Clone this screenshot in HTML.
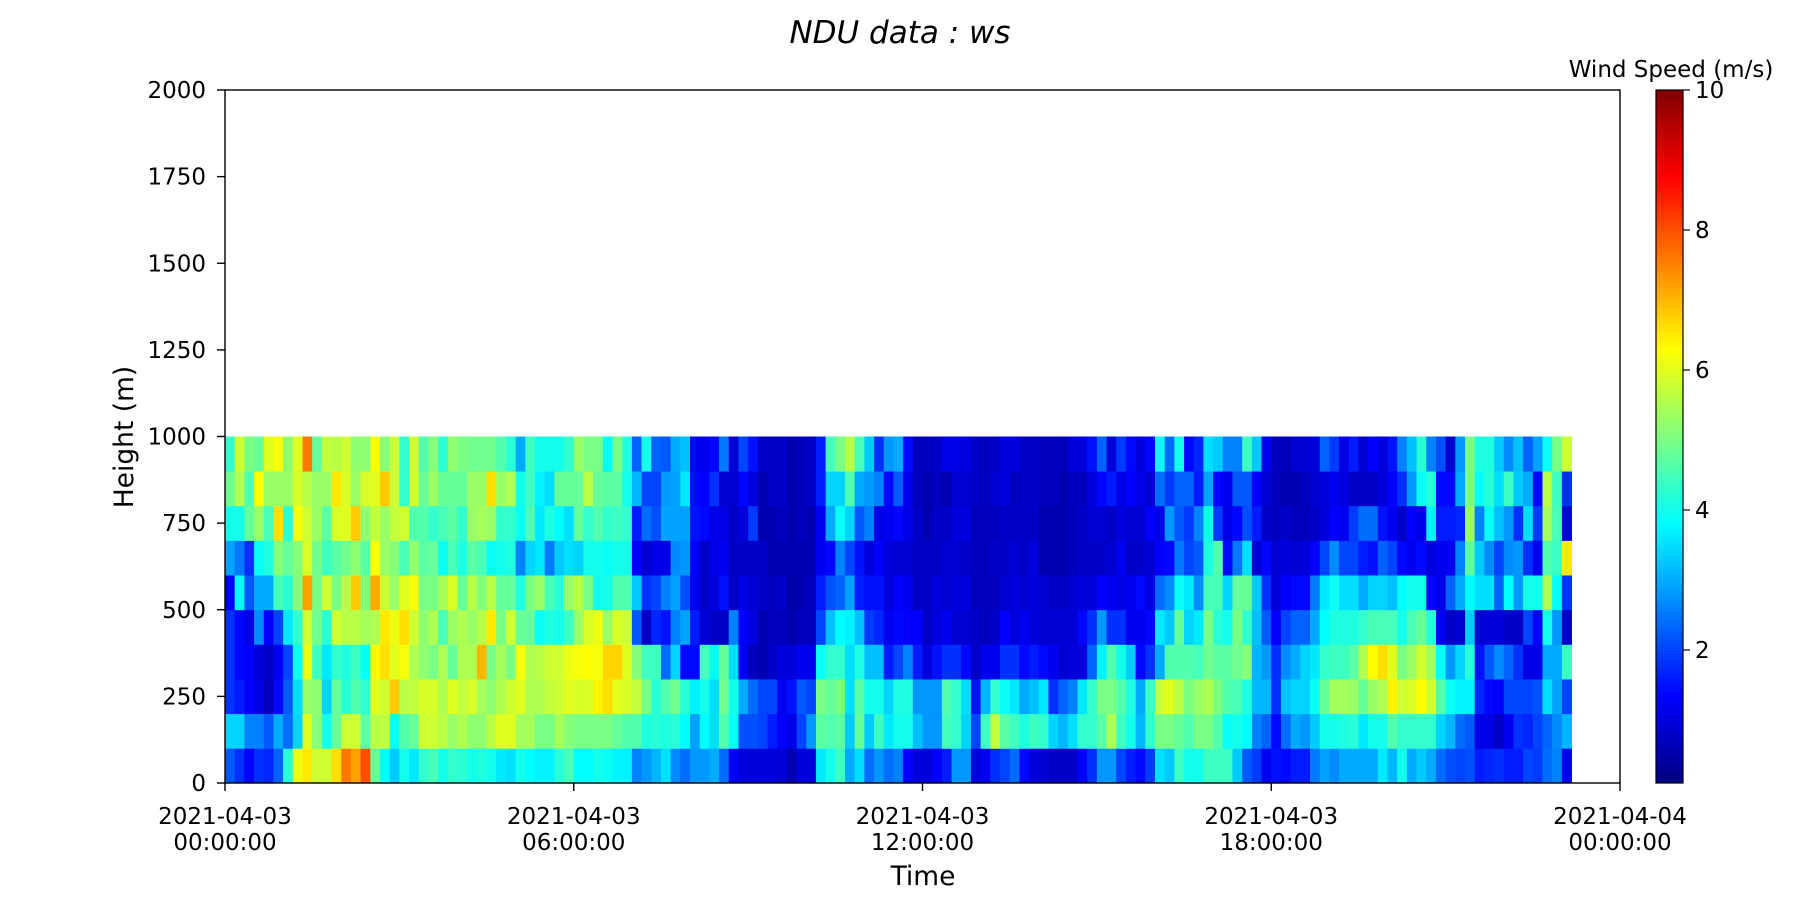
<!DOCTYPE html>
<html><head><meta charset="utf-8"><style>
html,body{margin:0;padding:0;background:#fff;}
svg{display:block;font-family:"DejaVu Sans","Liberation Sans",sans-serif;}
</style></head><body>
<svg id="chart" width="1800" height="900" viewBox="0 0 1800 900" xmlns="http://www.w3.org/2000/svg">
<defs><linearGradient id="cbgrad" x1="0" y1="1" x2="0" y2="0"></linearGradient></defs>
<rect width="1800" height="900" fill="#fff"/>
<text x="900" y="43" font-size="31" font-style="italic" text-anchor="middle" fill="#000">NDU data : ws</text>
<g id="cells"></g>
<g id="axes"></g>
<text transform="translate(133,437) rotate(-90)" font-size="26.5" text-anchor="middle" fill="#000">Height (m)</text>
<text x="923" y="885" font-size="26.5" text-anchor="middle" fill="#000">Time</text>
<g id="cbar"></g>
<text x="1671" y="77" font-size="23" text-anchor="middle" fill="#000">Wind Speed (m/s)</text>
</svg>
<script>
const heights = [0,100,200,300,400,500,600,700,800,900];
const stepMinutes = 10;
const row0 = [2.2,1.8,1.3,1.8,1.7,2.3,4.2,6.1,6.5,5.8,5.8,6.6,7.6,7.2,8.0,4.8,3.8,3.3,4.0,3.6,4.3,4.5,4.0,4.3,4.2,4.0,4.1,4.0, 3.6,3.5,4.0,3.8,3.7,3.7,4.2,4.5,3.8,3.8,4.0,3.9,3.7,3.7,2.6,2.8,3.1,3.5,2.7,2.4,2.8,2.8,3.0,2.4,1.2,1.0,1.0,1.0, 1.0,0.9,0.6,1.0,1.0,3.6,4.0,4.4,3.0,3.5,2.4,2.8,2.4,2.6,1.3,1.0,1.0,1.3,1.6,2.8,2.8,1.0,1.2,1.8,2.0,2.4,1.4,1.0, 0.9,0.8,0.8,0.8,1.3,1.8,2.8,2.8,2.0,1.6,1.4,1.9,3.5,3.3,4.4,4.0,4.0,4.4,4.4,4.4,3.3,2.2,1.9,1.2,1.5,1.4,1.6,1.6, 2.5,2.9,2.7,3.0,3.0,3.0,3.0,3.6,3.1,4.0,3.0,3.3,3.0,2.4,2.1,2.0,2.1,1.6,1.7,1.8,1.6,1.6,2.0,1.9,2.4,2.6,1.2];
const row1 = [3.4,3.4,2.6,2.6,2.2,3.0,2.4,3.4,6.0,5.1,4.0,4.8,5.8,5.8,4.7,5.6,5.7,3.9,4.6,4.8,5.8,5.8,5.6,5.3,5.5,5.2,5.2,5.6, 6.0,6.0,5.4,5.4,5.0,5.0,5.4,5.1,5.0,5.0,5.0,5.0,4.8,4.6,4.6,4.1,4.2,4.1,4.2,3.8,2.9,3.8,3.5,4.6,3.9,2.1,2.1,2.0, 1.6,1.3,1.1,2.0,2.8,4.7,4.6,4.7,3.3,4.8,3.3,4.4,3.6,4.0,4.0,3.2,2.8,2.8,4.5,4.3,3.4,2.0,4.4,5.7,4.7,4.4,4.1,4.4, 4.3,3.4,3.1,3.5,4.3,4.3,4.7,5.5,4.4,4.0,3.1,4.3,5.0,5.0,4.8,4.6,5.0,5.0,4.6,3.9,4.0,3.8,2.6,2.3,1.4,2.4,3.0,2.8, 3.3,4.0,4.0,4.1,4.2,3.6,4.0,4.0,4.6,4.3,4.3,4.3,4.3,3.4,3.1,2.4,2.2,1.1,1.1,0.8,1.2,1.8,1.7,2.0,2.3,2.7,3.1];
const row2 = [1.8,1.6,1.3,1.1,0.7,1.4,2.2,3.5,5.3,5.2,3.4,4.8,4.2,4.6,4.3,6.0,5.8,6.8,5.6,5.7,5.9,5.9,5.5,6.0,5.7,5.9,5.4,5.2, 5.5,5.8,6.0,5.5,5.5,5.7,5.8,6.0,5.9,5.9,6.4,6.6,6.0,5.9,5.7,5.0,4.2,4.6,4.9,4.2,3.7,4.0,3.5,4.9,4.0,3.0,2.4,2.0, 2.0,1.2,1.5,2.2,2.0,5.0,4.8,5.0,3.5,4.7,4.0,4.0,3.4,4.1,4.1,2.8,2.8,2.8,4.6,4.3,3.5,1.5,3.1,4.3,3.9,3.6,3.0,3.2, 3.6,1.8,2.3,2.6,3.6,4.3,5.0,5.0,4.6,4.1,3.0,4.4,5.8,6.0,5.6,5.0,5.3,5.5,5.0,4.6,4.5,4.1,3.1,3.1,1.8,3.2,3.4,3.4, 3.9,4.8,5.4,5.4,5.3,4.8,5.3,5.5,6.4,5.8,5.9,6.3,5.8,4.6,3.9,3.7,3.7,1.7,1.4,1.3,2.0,2.0,2.0,2.1,3.5,2.9,2.0];
const row3 = [1.8,1.4,1.3,1.0,0.8,1.2,2.0,3.9,6.1,4.4,3.6,4.3,4.1,4.4,3.9,6.3,6.6,6.0,6.2,5.5,5.2,5.0,5.5,4.8,5.5,5.5,7.0,5.0, 5.4,5.0,6.2,5.5,5.6,5.8,5.8,6.1,6.2,6.3,6.2,6.7,6.7,6.0,5.1,4.4,4.4,2.4,3.4,1.4,1.4,4.5,3.8,4.8,3.5,1.2,0.7,0.6, 0.8,1.0,1.0,1.2,1.2,3.9,4.3,4.3,3.5,4.1,3.2,3.2,1.6,2.0,2.6,1.6,1.0,1.5,1.8,1.8,1.4,0.8,1.2,1.2,1.8,1.8,1.4,1.6, 1.4,1.2,0.9,1.0,1.0,2.3,3.7,4.6,4.0,3.3,1.4,1.8,3.0,4.6,4.6,4.6,4.5,4.9,4.7,4.7,4.9,5.1,3.1,2.8,1.8,2.7,3.0,3.4, 3.6,4.3,4.4,4.4,4.7,5.5,6.3,6.6,6.0,5.0,5.3,5.8,5.4,3.9,2.8,3.4,4.2,1.5,2.2,2.7,2.3,1.8,1.1,1.1,3.0,3.0,4.4];
const row4 = [1.8,1.4,1.1,2.7,1.3,2.0,3.6,4.3,5.8,4.9,4.2,5.8,5.6,5.6,5.4,5.5,6.5,6.1,6.6,5.8,5.2,5.5,4.5,5.3,5.5,5.3,5.6,6.5, 5.0,5.8,4.8,4.8,3.9,4.1,4.0,4.4,5.3,5.9,6.1,5.3,5.9,5.8,2.2,0.8,1.7,1.5,2.6,2.9,1.6,0.9,0.8,0.8,2.6,1.3,1.0,0.6, 0.7,0.7,0.6,0.7,0.7,2.0,3.2,3.8,3.7,3.2,1.9,1.7,1.2,1.4,1.3,1.3,0.8,1.0,1.2,0.9,0.9,0.8,0.7,0.8,1.3,1.0,1.2,1.0, 0.9,0.9,0.9,0.9,1.4,1.8,2.8,1.8,1.8,1.2,1.2,1.4,3.6,3.3,4.8,3.4,3.6,5.0,4.2,4.0,5.0,4.3,3.2,2.2,1.3,2.0,2.3,2.3, 3.0,3.8,4.1,4.1,4.1,4.3,4.5,4.5,4.5,4.0,4.5,4.8,4.2,1.2,0.8,0.9,3.3,0.9,1.0,1.0,0.8,0.8,2.0,1.3,4.0,2.8,0.8];
const row5 = [1.3,3.9,2.2,3.0,3.0,4.5,4.2,5.1,7.2,5.0,5.8,5.0,5.6,6.8,5.1,7.1,5.8,5.3,6.0,6.2,5.0,5.0,5.4,5.9,4.8,5.6,5.1,5.6, 4.8,4.8,4.1,5.0,5.3,4.5,4.2,5.3,5.6,5.0,4.0,4.0,4.6,4.6,3.3,1.8,2.0,2.6,2.9,2.1,1.2,0.8,1.0,1.5,0.8,1.1,0.9,0.8, 0.7,0.8,0.5,0.6,0.7,1.6,2.1,2.3,2.9,1.6,1.5,1.5,1.0,1.3,1.2,0.8,0.8,1.0,0.9,1.0,1.0,0.7,0.7,0.7,0.9,1.0,0.9,1.0, 0.9,0.8,0.8,0.9,1.0,1.0,1.3,1.2,1.1,1.2,1.4,1.1,2.4,2.7,3.9,3.6,2.7,4.5,4.5,3.4,4.8,4.8,3.3,1.8,1.0,1.3,1.4,1.4, 2.5,3.6,3.9,3.5,3.5,3.0,3.4,3.4,3.2,3.8,4.0,4.0,1.4,1.1,2.3,3.0,3.8,3.5,3.5,2.3,3.8,2.8,4.0,4.0,5.5,3.8,1.8];
const row6 = [2.9,2.5,1.8,3.9,4.1,5.1,4.8,5.1,5.9,4.9,4.4,4.7,4.9,5.2,4.7,6.2,5.3,5.1,4.5,5.2,4.7,4.8,3.9,4.5,4.1,4.7,4.5,3.9, 4.0,4.1,2.6,3.4,3.6,2.5,3.3,3.5,3.4,4.0,4.0,3.9,4.0,4.0,1.3,0.9,1.1,1.1,2.7,2.8,1.3,0.8,1.1,1.2,0.8,0.8,0.8,0.8, 0.6,0.6,0.6,0.6,0.6,1.2,1.4,2.6,2.0,1.5,1.0,1.3,1.0,0.9,0.9,0.8,0.8,0.8,0.9,0.9,0.8,0.7,0.7,0.8,0.8,0.9,0.8,1.0, 0.6,0.6,0.6,0.7,0.8,0.8,0.8,0.9,1.2,0.8,0.8,0.9,1.3,1.4,2.5,2.0,2.2,4.1,4.6,1.4,2.5,3.5,0.9,1.4,0.9,1.0,0.9,1.0, 1.3,2.0,2.7,2.0,2.0,1.6,1.5,2.3,2.0,1.4,1.2,1.4,1.0,1.2,1.2,2.6,4.7,3.3,2.7,2.0,2.7,2.8,1.8,1.2,4.6,4.4,6.5];
const row7 = [4.0,4.0,4.8,5.3,4.5,6.6,4.2,6.2,5.8,5.3,4.7,5.9,6.0,6.8,5.2,5.7,5.3,5.7,5.8,4.6,4.6,4.3,4.5,4.7,4.3,5.3,5.4,5.3, 4.3,4.3,3.9,4.6,3.6,4.1,3.8,3.5,4.8,4.3,4.6,4.3,4.4,4.3,1.6,2.4,2.1,2.9,2.9,2.9,1.5,1.4,1.1,1.1,0.8,1.0,1.9,0.6, 0.6,0.7,0.6,0.7,0.6,1.2,3.0,3.9,3.4,2.2,2.6,1.1,1.2,1.4,1.1,0.8,0.6,0.8,0.8,1.0,1.0,0.7,0.7,0.7,0.8,0.8,0.8,0.8, 0.6,0.6,0.6,0.7,0.8,0.9,0.9,0.8,1.0,0.9,0.9,1.3,1.1,2.8,2.2,1.9,2.6,4.0,1.9,1.1,1.4,2.1,1.6,0.8,0.7,0.8,0.7,0.7, 0.8,1.0,1.3,1.2,1.9,2.4,2.4,1.5,1.2,0.8,1.3,1.1,3.7,1.6,1.6,1.7,5.3,2.6,3.9,3.2,2.8,1.8,3.5,1.9,5.4,4.5,1.0];
const row8 = [4.9,5.5,4.6,6.3,5.3,5.3,5.3,5.9,5.6,5.3,5.3,6.5,5.9,5.3,5.9,6.0,6.8,5.8,4.3,5.8,4.8,5.3,4.8,4.8,4.8,5.3,5.3,6.6, 5.3,5.5,4.0,4.4,3.7,3.5,4.8,4.8,4.8,5.6,4.8,4.7,4.7,4.0,3.1,2.0,2.0,2.8,2.9,3.6,1.4,1.3,1.8,0.9,0.9,1.4,1.0,0.6, 0.8,0.8,0.6,0.7,0.8,1.6,3.4,3.4,4.6,3.0,2.8,2.6,1.4,2.2,1.2,0.7,0.6,0.7,0.6,0.9,0.9,0.8,0.7,0.9,1.0,0.7,0.8,0.8, 0.7,0.7,0.6,0.7,0.7,1.0,1.4,1.6,1.1,1.3,1.1,0.9,2.4,1.9,2.3,2.3,1.6,2.9,1.4,1.2,2.2,2.2,1.3,0.9,0.7,0.6,0.6,0.7, 0.9,1.0,1.2,1.0,0.8,0.8,0.8,1.0,1.3,1.8,2.8,3.9,4.2,1.4,1.4,3.0,5.0,3.9,4.2,3.5,4.4,3.3,3.0,1.4,5.6,4.4,1.8];
const row9 = [4.3,5.8,5.0,4.8,6.0,6.2,5.2,6.0,7.6,4.8,5.7,5.6,5.8,5.2,5.2,6.2,5.1,5.8,4.3,5.8,4.6,5.1,4.2,5.2,5.0,4.9,4.9,4.9, 4.6,4.2,3.0,4.4,4.0,4.0,4.0,4.3,5.3,5.0,5.0,3.8,5.0,4.1,2.3,4.0,2.3,2.2,3.0,3.2,1.2,1.2,1.4,2.5,0.9,2.0,1.5,0.8, 0.8,0.8,0.6,0.7,0.8,1.6,4.5,5.0,5.6,4.5,3.3,1.8,2.8,3.0,1.4,0.7,0.7,0.8,1.1,1.1,1.0,0.8,0.7,0.8,1.0,1.0,0.8,0.8, 0.7,0.7,0.7,1.0,1.0,1.5,2.3,1.0,1.9,1.4,1.0,1.4,3.9,2.4,4.0,1.4,1.7,3.5,3.3,2.6,2.6,4.4,3.3,1.2,0.7,0.7,0.9,0.9, 1.0,2.3,1.9,1.1,1.6,0.9,1.3,1.0,1.5,2.6,3.2,4.2,2.6,2.1,0.9,2.8,5.0,4.1,4.1,3.3,2.7,3.2,2.3,2.9,3.9,5.0,5.8];
const rows = [row0,row1,row2,row3,row4,row5,row6,row7,row8,row9];
const yTicks = [0,250,500,750,1000,1250,1500,1750,2000];
const xTickHours = [0,6,12,18,24];
const xTickDates = ["2021-04-03","2021-04-03","2021-04-03","2021-04-03","2021-04-04"];
const xTickTimes = ["00:00:00","06:00:00","12:00:00","18:00:00","00:00:00"];
const cbTicks = [2,4,6,8,10];
const vmin = 0.1, vmax = 10;

const L=225,R=1620,T=90,B=783;
const NS="http://www.w3.org/2000/svg";
function xs(min){return L+min/1440*(R-L);}
function ys(h){return B-h/2000*(B-T);}
function jet(v){
  let t=Math.max(0,Math.min(1,(v-vmin)/(vmax-vmin)));
  const c=x=>Math.round(255*Math.max(0,Math.min(1,x)));
  return `rgb(${c(1.5-Math.abs(4*t-3))},${c(1.5-Math.abs(4*t-2))},${c(1.5-Math.abs(4*t-1))})`;
}
function mk(tag,attrs,parent){const e=document.createElementNS(NS,tag);for(const k in attrs)e.setAttribute(k,attrs[k]);parent.appendChild(e);return e;}
const cells=document.getElementById('cells');
rows.forEach((row,ri)=>{
  row.forEach((v,ci)=>{
    const x0=xs(ci*stepMinutes),x1=xs((ci+1)*stepMinutes);
    const y1=ys(heights[ri]),y0=ys(heights[ri]+100);
    const r=mk('rect',{x:x0.toFixed(2),y:y0.toFixed(2),width:(x1-x0+0.4).toFixed(2),height:(y1-y0+0.4).toFixed(2),fill:jet(v)},cells);
    
    
  });
});
const ax=document.getElementById('axes');
mk('rect',{x:L,y:T,width:R-L,height:B-T,fill:'none',stroke:'#000','stroke-width':1.4},ax);
yTicks.forEach(v=>{
  const y=ys(v);
  mk('line',{x1:L-8,x2:L,y1:y,y2:y,stroke:'#000','stroke-width':1.4},ax);
  const t=mk('text',{x:L-19,y:y+8,'font-size':23,'text-anchor':'end',fill:'#000'},ax);
  t.textContent=v;
  
  
});
xTickHours.forEach((h,i)=>{
  const x=xs(h*60);
  mk('line',{x1:x,x2:x,y1:B,y2:B+8,stroke:'#000','stroke-width':1.4},ax);
  const t=mk('text',{x:x,y:824,'font-size':23,'text-anchor':'middle',fill:'#000'},ax);
  t.textContent=xTickDates[i];
  
  
  const t2=mk('text',{x:x,y:850,'font-size':23,'text-anchor':'middle',fill:'#000'},ax);
  t2.textContent=xTickTimes[i];
  
  
});
const grad=document.getElementById('cbgrad');
for(let i=0;i<=40;i++){const v=vmin+(vmax-vmin)*i/40;mk('stop',{offset:(i/40),'stop-color':jet(v)},grad);}
const cb=document.getElementById('cbar');
const CX0=1656,CX1=1683;
function cy(v){return B-(v-vmin)/(vmax-vmin)*(B-T);}
mk('rect',{x:CX0,y:T,width:CX1-CX0,height:B-T,fill:'url(#cbgrad)',stroke:'#000','stroke-width':1.2},cb);
cbTicks.forEach(v=>{
  const y=cy(v);
  mk('line',{x1:CX1,x2:CX1+7,y1:y,y2:y,stroke:'#000','stroke-width':1.2},cb);
  const t=mk('text',{x:CX1+12,y:y+8,'font-size':23,fill:'#000'},cb);
  t.textContent=v;
  
  
});
</script>
</body></html>
